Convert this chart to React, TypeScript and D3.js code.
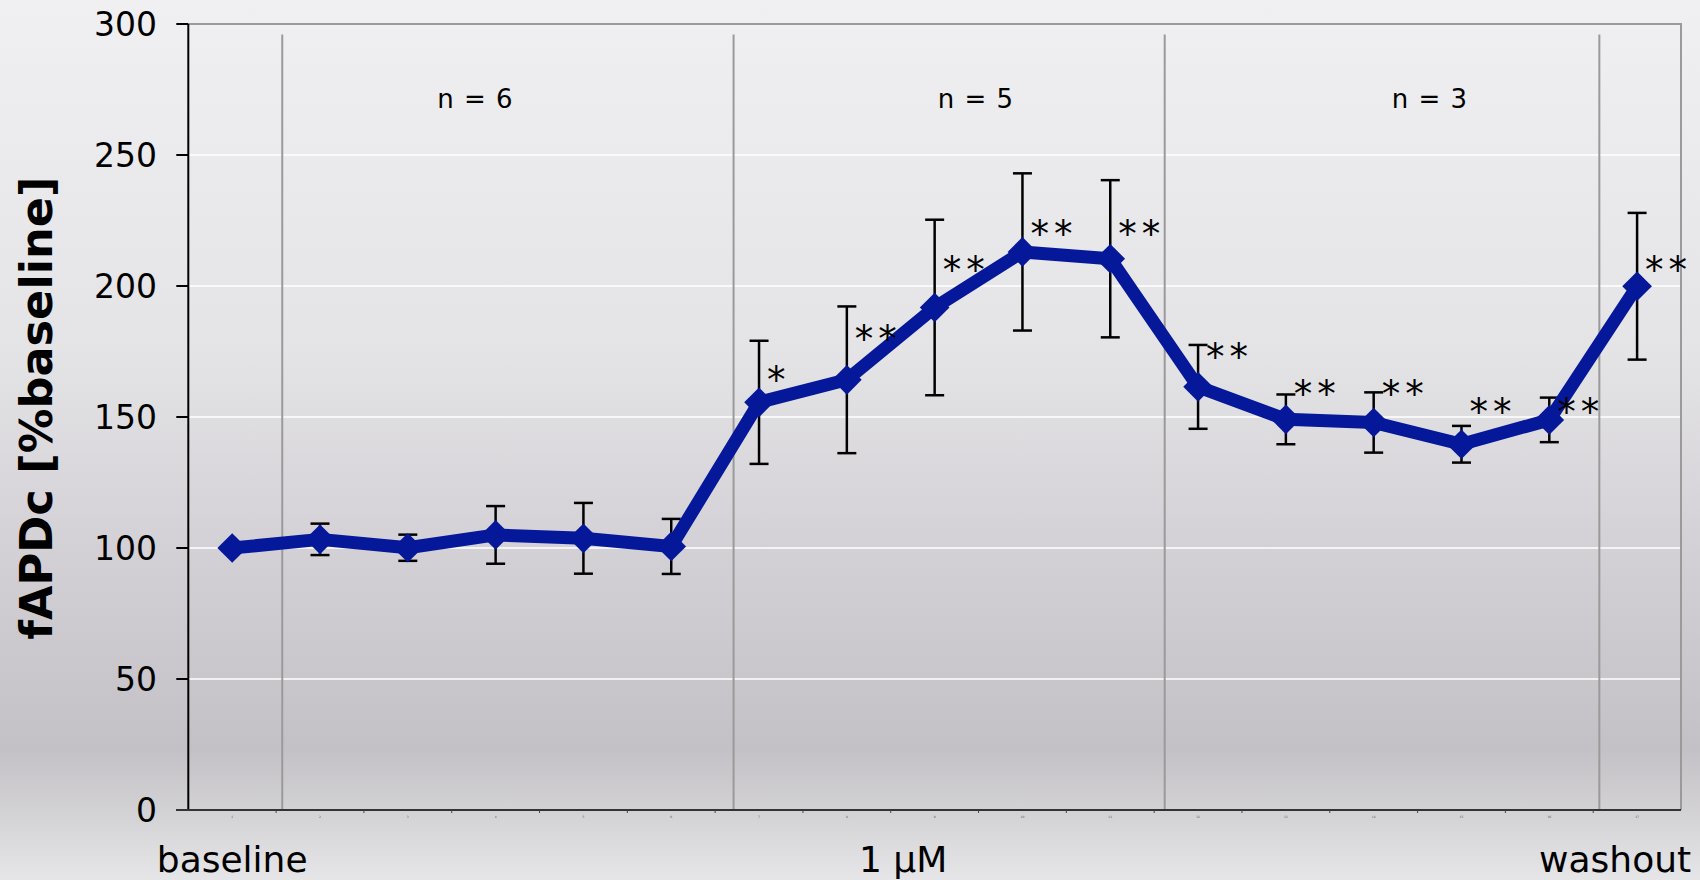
import React, { useEffect, useRef } from "react";
import * as d3 from "d3";

// mean fAPDc per recording, in % of baseline
const means = [100, 103.3, 100.1, 105, 103.7, 100.6, 155.6, 164.2, 191.8, 213, 210.4, 161.5, 149.1, 147.9, 139.6, 148.9, 199.9];
// half length of the error bars
const errors = [0, 6, 5, 11, 13.5, 10.5, 23.5, 28, 33.5, 30, 30, 16, 9.5, 11.5, 7, 8.5, 28];
// significance marks and where they sit (value units)
const stars = ["", "", "", "", "", "", "*", "**", "**", "**", "**", "**", "**", "**", "**", "**", "**"];
const starLevels = [0, 0, 0, 0, 0, 0, 167, 183, 209, 223, 223, 176, 162, 162, 155, 155, 209];

const yTicks = [0, 50, 100, 150, 200, 250, 300];
// x labels placed in category units along the axis
const xLabels = ["baseline", "1 µM", "washout"];
const xLabelPos = [0.5, 8.14, 16.25];
// separators between phases (category units)
const phaseLines = [1.07, 6.21, 11.12, 16.07];
const nLabels = ["n = 6", "n = 5", "n = 3"];
const nLabelPos = [3.27, 8.97, 14.14];

const W = 1700;
const H = 880;
const FONT = "'DejaVu Sans', Verdana, sans-serif";
const BLUE = "#06189a";

export default function App() {
  const ref = useRef<SVGSVGElement>(null);

  useEffect(() => {
    if (!ref.current) return;
    const svg = d3.select(ref.current);
    svg.selectAll("*").remove();

    const left = 188.3;
    const right = 1681;
    const top = 24;
    const bottom = 810;

    const defs = svg.append("defs");
    const grad = defs
      .append("linearGradient")
      .attr("id", "bg")
      .attr("x1", 0)
      .attr("y1", 0)
      .attr("x2", 0)
      .attr("y2", 1);
    [
      [0, "#f0f0f2"],
      [0.4, "#e4e3e6"],
      [0.62, "#d3d1d5"],
      [0.85, "#c3c1c5"],
      [0.93, "#d4d3d6"],
      [1, "#e6e6e8"],
    ].forEach(([o, c]) =>
      grad.append("stop").attr("offset", o as number).attr("stop-color", c as string),
    );

    svg.append("rect").attr("width", W).attr("height", H).attr("fill", "url(#bg)");

    const n = means.length;
    const x = d3.scaleLinear().domain([0, n]).range([left, right]);
    const y = d3.scaleLinear().domain([0, 300]).range([bottom, top]);
    const cx = (i: number) => x(i + 0.5);

    // white gridlines
    svg
      .append("g")
      .selectAll("line")
      .data(yTicks.filter((t) => t > 0 && t < 300))
      .join("line")
      .attr("x1", left)
      .attr("x2", right)
      .attr("y1", (d) => y(d))
      .attr("y2", (d) => y(d))
      .attr("stroke", "#ffffff")
      .attr("stroke-width", 1.5);

    // plot frame top + right
    svg
      .append("path")
      .attr("d", `M${left},${y(300)}H${right}V${bottom}`)
      .attr("fill", "none")
      .attr("stroke", "#9a9a9a")
      .attr("stroke-width", 2);

    // phase separators
    svg
      .append("g")
      .selectAll("line")
      .data(phaseLines)
      .join("line")
      .attr("x1", (d) => x(d))
      .attr("x2", (d) => x(d))
      .attr("y1", y(296))
      .attr("y2", bottom)
      .attr("stroke", "#9a9a9a")
      .attr("stroke-width", 2);

    // y axis
    const yAxis = svg.append("g");
    yAxis
      .append("line")
      .attr("x1", left)
      .attr("x2", left)
      .attr("y1", top)
      .attr("y2", bottom)
      .attr("stroke", "#000")
      .attr("stroke-width", 2);
    yAxis
      .selectAll("line.tick")
      .data(yTicks)
      .join("line")
      .attr("class", "tick")
      .attr("x1", left - 12)
      .attr("x2", left)
      .attr("y1", (d) => y(d))
      .attr("y2", (d) => y(d))
      .attr("stroke", "#000")
      .attr("stroke-width", 2);
    yAxis
      .selectAll("text")
      .data(yTicks)
      .join("text")
      .attr("x", 157)
      .attr("y", (d) => y(d) + 12)
      .attr("text-anchor", "end")
      .attr("font-family", FONT)
      .attr("font-size", 33)
      .attr("fill", "#000")
      .text((d) => d);

    // x axis
    const xAxis = svg.append("g");
    xAxis
      .append("line")
      .attr("x1", left - 12)
      .attr("x2", right)
      .attr("y1", bottom)
      .attr("y2", bottom)
      .attr("stroke", "#333")
      .attr("stroke-width", 2);
    xAxis
      .selectAll("line.tick")
      .data(d3.range(1, n))
      .join("line")
      .attr("class", "tick")
      .attr("x1", (d) => x(d))
      .attr("x2", (d) => x(d))
      .attr("y1", bottom)
      .attr("y2", bottom + 3)
      .attr("stroke", "#444")
      .attr("stroke-width", 1);
    xAxis
      .selectAll("text.tiny")
      .data(d3.range(n))
      .join("text")
      .attr("class", "tiny")
      .attr("x", (d) => cx(d))
      .attr("y", bottom + 8)
      .attr("text-anchor", "middle")
      .attr("font-family", FONT)
      .attr("font-size", 3)
      .attr("fill", "#555")
      .text((d) => d + 1);
    xAxis
      .selectAll("text.lab")
      .data(xLabels)
      .join("text")
      .attr("class", "lab")
      .attr("x", (d, i) => x(xLabelPos[i]))
      .attr("y", 871.5)
      .attr("text-anchor", "middle")
      .attr("font-family", FONT)
      .attr("font-size", 36)
      .attr("fill", "#000")
      .text((d) => d);

    // y title
    svg
      .append("text")
      .attr("transform", `translate(51.5,408) rotate(-90)`)
      .attr("text-anchor", "middle")
      .attr("font-family", FONT)
      .attr("font-weight", "bold")
      .attr("font-size", 45)
      .attr("textLength", 463)
      .attr("lengthAdjust", "spacingAndGlyphs")
      .attr("fill", "#000")
      .text("fAPDc [%baseline]");

    // n labels
    svg
      .append("g")
      .selectAll("text")
      .data(nLabels)
      .join("text")
      .attr("x", (d, i) => x(nLabelPos[i]))
      .attr("y", 108.3)
      .attr("text-anchor", "middle")
      .attr("font-family", FONT)
      .attr("font-size", 26)
      .attr("letter-spacing", 1)
      .attr("fill", "#000")
      .text((d) => d);

    // error bars
    const eb = svg
      .append("g")
      .selectAll("g")
      .data(means.map((m, i) => ({ m, e: errors[i], i })).filter((d) => d.e > 0))
      .join("g")
      .attr("stroke", "#000")
      .attr("stroke-width", 2.5);
    eb.append("line")
      .attr("x1", (d) => cx(d.i))
      .attr("x2", (d) => cx(d.i))
      .attr("y1", (d) => y(d.m + d.e))
      .attr("y2", (d) => y(d.m - d.e));
    eb.append("line")
      .attr("x1", (d) => cx(d.i) - 9.5)
      .attr("x2", (d) => cx(d.i) + 9.5)
      .attr("y1", (d) => y(d.m + d.e))
      .attr("y2", (d) => y(d.m + d.e));
    eb.append("line")
      .attr("x1", (d) => cx(d.i) - 9.5)
      .attr("x2", (d) => cx(d.i) + 9.5)
      .attr("y1", (d) => y(d.m - d.e))
      .attr("y2", (d) => y(d.m - d.e));

    // the series line
    const line = d3
      .line<number>()
      .x((d, i) => cx(i))
      .y((d) => y(d));
    svg
      .append("path")
      .datum(means)
      .attr("d", line)
      .attr("fill", "none")
      .attr("stroke", BLUE)
      .attr("stroke-width", 13)
      .attr("stroke-linejoin", "round");

    // diamond markers (rotated squares)
    svg
      .append("g")
      .selectAll("path")
      .data(means)
      .join("path")
      .attr("transform", (d, i) => `translate(${cx(i)},${y(d)}) rotate(45)`)
      .attr("d", d3.symbol().type(d3.symbolSquare).size(440)() as string)
      .attr("fill", BLUE);

    // significance stars
    svg
      .append("g")
      .selectAll("text")
      .data(stars.map((s, i) => ({ s, i })).filter((d) => d.s))
      .join("text")
      .attr("x", (d) => cx(d.i) + 8)
      .attr("y", (d) => y(starLevels[d.i]) + 21)
      .attr("font-family", FONT)
      .attr("font-size", 37)
      .attr("letter-spacing", 5)
      .attr("fill", "#000")
      .text((d) => d.s);
  }, []);

  return (
    <svg
      ref={ref}
      width={W}
      height={H}
      style={{ position: "absolute", left: 0, top: 0, display: "block" }}
    />
  );
}
